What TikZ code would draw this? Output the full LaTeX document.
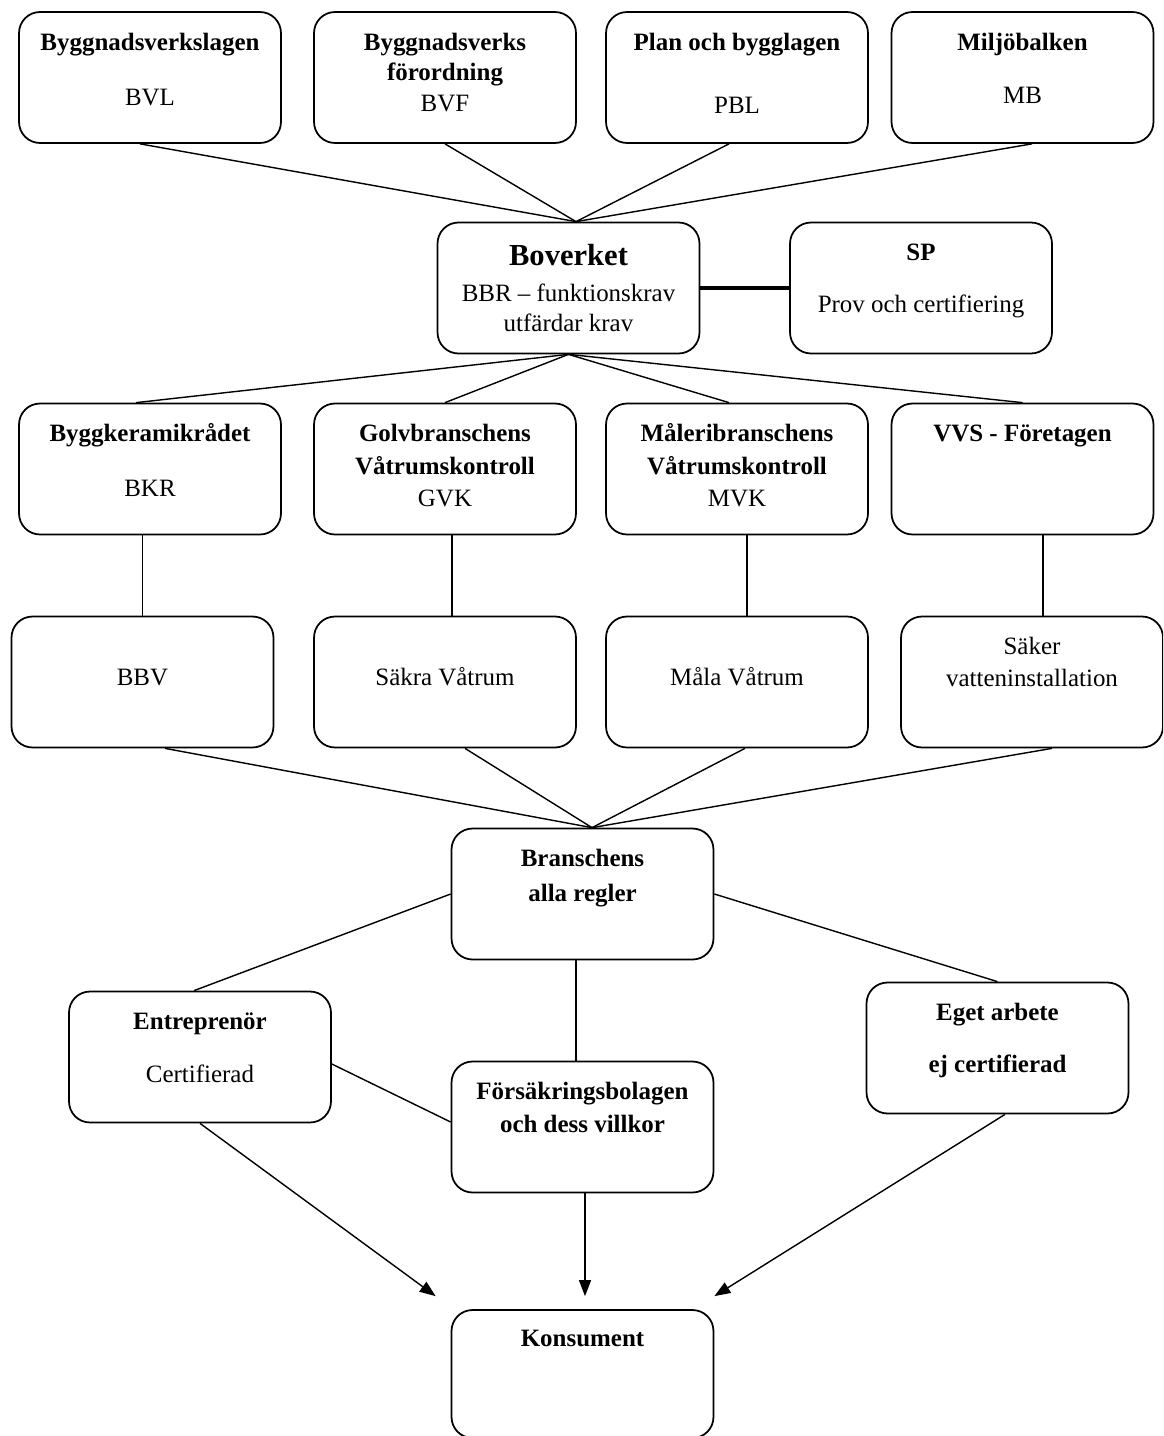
\documentclass[tikz,border=0pt]{standalone}
\usepackage{fontspec}
\setmainfont{Liberation Serif}
\usetikzlibrary{arrows.meta}

\newcommand{\rutatext}[1]{\parbox[c][1.94cm][t]{5.2cm}{\centering\strut #1}}

\begin{document}
\begin{tikzpicture}[x=0.02cm,y=-0.02cm]
  \tikzstyle{Ruta}=[draw,rounded corners=0.42cm,line width=1pt,minimum width=5.24cm,
                    minimum height=2.62cm,inner sep=0pt,font=\fontsize{14.2}{17.4}\selectfont]
  \tikzstyle{Linje}=[line width=0.8pt]
  \tikzstyle{Pil}=[line width=0.8pt,-{Triangle[length=0.32cm,width=0.24cm]}]
  \useasboundingbox (0,0) rectangle (1163,1436);
  \clip (0,0) rectangle (1163,1436);
  % lagar
  \node[Ruta] (bvl) at (150,77.5)    {\rutatext{\bfseries Byggnadsverkslagen\\[13.9pt]\mdseries BVL}};
  \node[Ruta] (bvf) at (445,77.5)    {\rutatext{\bfseries Byggnadsverks\\förordning\\\mdseries BVF}};
  \node[Ruta] (pbl) at (737,77.5)    {\rutatext{\bfseries Plan och bygglagen\\[18.5pt]\mdseries PBL}};
  \node[Ruta] (mb)  at (1022.5,77.5) {\rutatext{\bfseries Miljöbalken\\[12.8pt]\mdseries MB}};
  % myndighet
  \node[Ruta] (bov) at (568.5,288) {\rutatext{{\fontsize{17.4}{21}\selectfont\bfseries\strut Boverket}\\[3pt]
                                    BBR – funktionskrav\\[-0.3pt]utfärdar krav}};
  \node[Ruta] (sp)  at (921,288)   {\rutatext{\bfseries SP\\[12.2pt]\mdseries Prov och certifiering}};
  % branschorgan
  \node[Ruta] (bkr) at (150,469)    {\rutatext{\bfseries Byggkeramikrådet\\[13.4pt]\mdseries BKR}};
  \node[Ruta] (gvk) at (445,469)    {\rutatext{\bfseries Golvbranschens\\[1pt]Våtrumskontroll\\[1pt]\mdseries GVK}};
  \node[Ruta] (mvk) at (737,469)    {\rutatext{\bfseries Måleribranschens\\[1pt]Våtrumskontroll\\[1pt]\mdseries MVK}};
  \node[Ruta] (vvs) at (1022.5,469) {\rutatext{\bfseries VVS - Företagen}};
  % regelverk
  \node[Ruta] (bbv)   at (142.5,682) {\rutatext{\\BBV}};
  \node[Ruta] (sakra) at (445,682)   {\rutatext{\\Säkra Våtrum}};
  \node[Ruta] (mala)  at (737,682)   {\rutatext{\\Måla Våtrum}};
  \node[Ruta] (saker) at (1032,682)  {\rutatext{Säker\\[0.5pt]vatteninstallation}};
  % utforande
  \node[Ruta] (bransch) at (582.5,894)  {\rutatext{\bfseries Branschens\\[2pt]alla regler}};
  \node[Ruta] (entre)   at (200,1057)   {\rutatext{\bfseries Entreprenör\\[12.8pt]\mdseries Certifierad}};
  \node[Ruta] (eget)    at (997.5,1048) {\rutatext{\bfseries Eget arbete\\[12.2pt]ej certifierad}};
  \node[Ruta] (forsak)  at (582.5,1127) {\rutatext{\bfseries Försäkringsbolagen\\[1pt]och dess villkor}};
  \node[Ruta,minimum height=2.56cm] (kons) at (582.5,1374) {\rutatext{\bfseries Konsument}};

  \draw[Linje] ([xshift=-0.2cm]bvl.south) -- ([xshift=0.15cm]bov.north);
  \draw[Linje] (bvf.south) -- ([xshift=0.15cm]bov.north);
  \draw[Linje] ([xshift=-0.16cm]pbl.south) -- ([xshift=0.15cm]bov.north);
  \draw[Linje] ([xshift=0.19cm]mb.south) -- ([xshift=0.15cm]bov.north);
  \draw[line width=1.8pt] (bov.east) -- (sp.west);
  \draw[Linje] (bov.south) -- ([xshift=-0.28cm]bkr.north);
  \draw[Linje] (bov.south) -- (gvk.north);
  \draw[Linje] (bov.south) -- ([xshift=-0.16cm]mvk.north);
  \draw[Linje] (bov.south) -- (vvs.north);
  \draw[Linje] (bbv.north) -- (bbv.north |- bkr.south);
  \draw[Linje] ([xshift=0.14cm]gvk.south) -- ([xshift=0.14cm]sakra.north);
  \draw[Linje] ([xshift=0.2cm]mvk.south) -- ([xshift=0.2cm]mala.north);
  \draw[Linje] ([xshift=0.22cm]saker.north) -- ([xshift=0.22cm]saker.north |- vvs.south);
  \draw[Linje] ([xshift=0.45cm]bbv.south) -- ([xshift=0.19cm]bransch.north);
  \draw[Linje] ([xshift=0.4cm]sakra.south) -- ([xshift=0.19cm]bransch.north);
  \draw[Linje] ([xshift=0.16cm]mala.south) -- ([xshift=0.19cm]bransch.north);
  \draw[Linje] ([xshift=0.4cm]saker.south) -- ([xshift=0.19cm]bransch.north);
  \draw[Linje] (bransch.west) -- ([xshift=-0.12cm]entre.north);
  \draw[Linje] (bransch.east) -- (eget.north);
  \draw[Linje] ([xshift=-0.13cm]bransch.south) -- ([xshift=-0.13cm]forsak.north);
  \draw[Linje] ([yshift=-0.14cm]entre.east) -- ([yshift=0.1cm]forsak.west);
  \draw[Pil] (entre.south) -- ([xshift=-0.3cm,yshift=0.26cm]kons.north west);
  \draw[Pil] ([xshift=0.05cm]forsak.south) -- ([xshift=0.05cm,yshift=0.26cm]kons.north);
  \draw[Pil] ([xshift=0.15cm]eget.south) -- ([yshift=0.26cm]kons.north east);
\end{tikzpicture}
\end{document}
